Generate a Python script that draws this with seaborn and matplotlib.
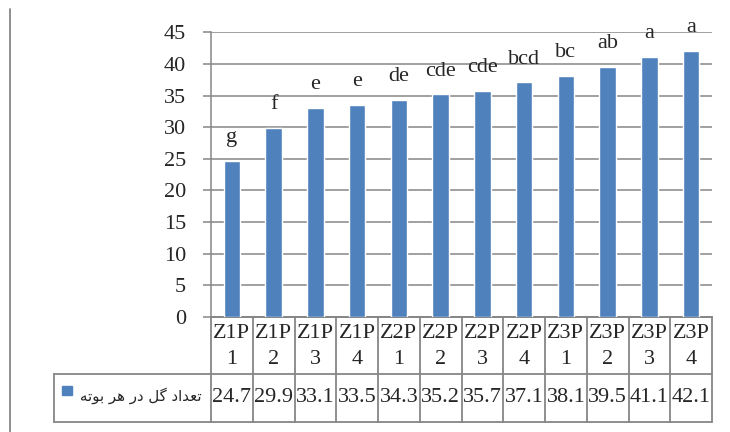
import matplotlib
matplotlib.use("Agg")
import matplotlib.pyplot as plt
import matplotlib.transforms as mtransforms
from matplotlib.lines import Line2D
from matplotlib.patches import Rectangle
import seaborn as sns
import pandas as pd

# ---- data ----
categories = ["Z1P1", "Z1P2", "Z1P3", "Z1P4", "Z2P1", "Z2P2", "Z2P3", "Z2P4",
              "Z3P1", "Z3P2", "Z3P3", "Z3P4"]
values = [24.7, 29.9, 33.1, 33.5, 34.3, 35.2, 35.7, 37.1, 38.1, 39.5, 41.1, 42.1]
letters = ["g", "f", "e", "e", "de", "cde", "cde", "bcd", "bc", "ab", "a", "a"]
y_ticks = [0, 5, 10, 15, 20, 25, 30, 35, 40, 45]
# "تعداد گل در هر بوته" written in Arabic presentation forms, visual order
series_name = "\uFEEA\uFE97\uFEEE\uFE91 \uFEAE\uFEEB \uFEAD\uFEA9 \uFEDE\uFB94 \uFEA9\uFE8D\uFEAA\uFECC\uFE97"

df = pd.DataFrame({"cat": categories, "val": values})

sns.set_style("white")
plt.rcParams["font.family"] = ["Liberation Serif", "DejaVu Sans"]

W, H = 730, 432
fig = plt.figure(figsize=(W / 100, H / 100), dpi=100)

# axes in pixel layout
L, R, T, B = 211, 712, 32.3, 317
ax = fig.add_axes([L / W, 1 - B / H, (R - L) / W, (B - T) / H])

BLUE = "#4F81BD"
GRAY = "#868686"
FS = 16

sns.barplot(data=df, x="cat", y="val", color=BLUE, saturation=1, width=0.4,
            ax=ax, zorder=3)
ax.set_xlim(-0.5, len(categories) - 0.5)
ax.set_ylim(0, 45)
ax.set_yticks(y_ticks)
ax.set_yticklabels([str(t) for t in y_ticks], fontsize=FS)
ax.set_xticks([])
ax.set_xlabel("")
ax.set_ylabel("")
ax.yaxis.grid(True, color=GRAY, lw=1.1, zorder=0)
ax.set_axisbelow(True)
ax.tick_params(axis="y", direction="out", length=5.8, width=1.1, color=GRAY,
               pad=12, left=True)
for s in ["top", "right"]:
    ax.spines[s].set_visible(False)
for s in ["left", "bottom"]:
    ax.spines[s].set_color(GRAY)
    ax.spines[s].set_linewidth(1.1)

# letters above bars
for i, (v, lab) in enumerate(zip(values, letters)):
    ax.annotate(lab, (i, v), xytext=(0, 13.5), textcoords="offset points",
                ha="center", va="baseline", fontsize=FS)

# ---- data table below the axes ----
ah = B - T
def yfrac(py):
    return (B - py) / ah

trans = mtransforms.blended_transform_factory(ax.transData, ax.transAxes)
cell_w = (R - L) / len(categories)
leg_left = (54 - L) / cell_w - 0.5
y_row1 = yfrac(374)
y_row2 = yfrac(422)
n = len(categories)

def line(xs, ys):
    ax.add_line(Line2D(xs, ys, transform=trans, color=GRAY, lw=1.3,
                       clip_on=False))

for k in range(n + 1):
    line([k - 0.5, k - 0.5], [0, y_row2])
line([leg_left, leg_left], [y_row1, y_row2])
line([leg_left, n - 0.5], [y_row1, y_row1])
line([leg_left, n - 0.5], [y_row2, y_row2])
line([-0.5, n - 0.5], [0, 0])

for i, c in enumerate(categories):
    ax.text(i, yfrac(333), c[:3], transform=trans, ha="center", va="center",
            fontsize=FS)
    ax.text(i, yfrac(360), c[3:], transform=trans, ha="center", va="center",
            fontsize=FS)
    ax.text(i, yfrac(398), f"{values[i]:.1f}", transform=trans, ha="center",
            va="center", fontsize=FS)

# legend key in the table
fig.add_artist(Rectangle((62 / W, 1 - 395 / H), 10 / W, 9 / H,
                         transform=fig.transFigure, color=BLUE))
fig.text(202 / W, 1 - 396 / H, series_name, ha="right", va="center",
         fontsize=10.8, family=["DejaVu Sans"])

# left border line
fig.add_artist(Line2D([10 / W, 10 / W], [1 - 9 / H, 0],
                      transform=fig.transFigure, color=GRAY, lw=1.3))

fig.savefig("out.png", dpi=100)
